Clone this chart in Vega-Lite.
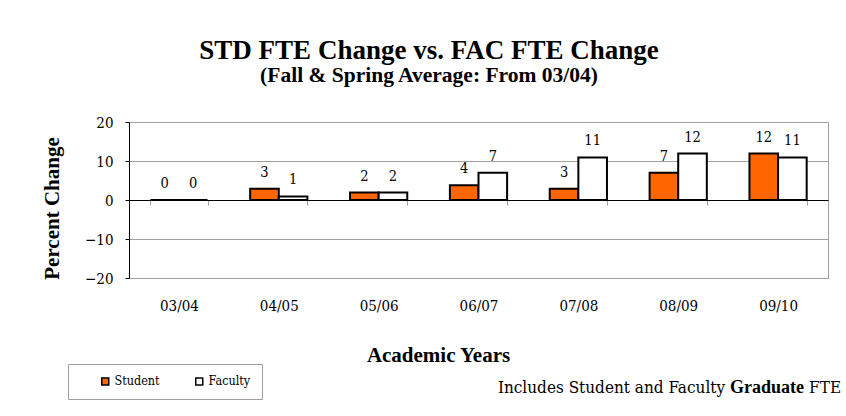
{
  "$schema": "https://vega.github.io/schema/vega-lite/v6.json",
  "width": 699,
  "height": 156,
  "autosize": {"type": "none"},
  "padding": {"left": 129, "top": 122, "right": 18, "bottom": 138},
  "background": "white",
  "config": {
    "font": "'DejaVu Serif Condensed', 'DejaVu Serif', serif",
    "view": {"stroke": "#a0a0a0", "strokeWidth": 1}
  },
  "title": {
    "text": "STD FTE Change vs. FAC FTE Change",
    "subtitle": "(Fall & Spring Average: From 03/04)",
    "font": "Liberation Serif",
    "fontSize": 27,
    "fontWeight": "bold",
    "color": "black",
    "subtitleFont": "Liberation Serif",
    "subtitleFontSize": 21.5,
    "subtitleFontWeight": "bold",
    "subtitleColor": "black",
    "subtitlePadding": 0,
    "anchor": "middle",
    "frame": "group",
    "dx": -49.5,
    "offset": 28
  },
  "data": {
    "values": [
      {"year": "03/04", "series": "Student", "value": 0, "label": "0"},
      {"year": "03/04", "series": "Faculty", "value": 0, "label": "0"},
      {"year": "04/05", "series": "Student", "value": 2.9, "label": "3"},
      {"year": "04/05", "series": "Faculty", "value": 0.9, "label": "1"},
      {"year": "05/06", "series": "Student", "value": 1.9, "label": "2"},
      {"year": "05/06", "series": "Faculty", "value": 1.9, "label": "2"},
      {"year": "06/07", "series": "Student", "value": 3.8, "label": "4"},
      {"year": "06/07", "series": "Faculty", "value": 7.0, "label": "7"},
      {"year": "07/08", "series": "Student", "value": 2.9, "label": "3"},
      {"year": "07/08", "series": "Faculty", "value": 10.9, "label": "11"},
      {"year": "08/09", "series": "Student", "value": 7.0, "label": "7"},
      {"year": "08/09", "series": "Faculty", "value": 11.9, "label": "12"},
      {"year": "09/10", "series": "Student", "value": 11.9, "label": "12"},
      {"year": "09/10", "series": "Faculty", "value": 10.9, "label": "11"}
    ]
  },
  "encoding": {
    "x": {
      "field": "year",
      "type": "nominal",
      "scale": {"paddingInner": 0.427, "paddingOuter": 0.2135},
      "axis": {
        "orient": "bottom",
        "offset": -78,
        "domainColor": "black",
        "domainWidth": 1,
        "tickBand": "extent",
        "tickColor": "#a0a0a0",
        "tickSize": 5,
        "labelAngle": 0,
        "labelFont": "'DejaVu Serif Condensed', 'DejaVu Serif', serif",
        "labelFontSize": 15,
        "labelColor": "black",
        "labelPadding": 93,
        "grid": false,
        "title": "Academic Years",
        "titleFont": "Liberation Serif",
        "titleFontSize": 21,
        "titleFontWeight": "bold",
        "titleColor": "black",
        "titleX": 309,
        "titleY": 155,
        "titleAlign": "center",
        "titleBaseline": "middle"
      }
    },
    "y": {
      "field": "value",
      "type": "quantitative",
      "scale": {"domain": [-20, 20], "nice": false, "zero": false},
      "axis": {
        "values": [-20, -10, 0, 10, 20],
        "domainColor": "black",
        "tickColor": "black",
        "tickSize": 4,
        "labelFont": "'DejaVu Serif Condensed', 'DejaVu Serif', serif",
        "labelFontSize": 15,
        "labelColor": "black",
        "labelPadding": 12,
        "gridColor": "#a0a0a0",
        "title": "Percent Change",
        "titleFont": "Liberation Serif",
        "titleFontSize": 21,
        "titleFontWeight": "bold",
        "titleColor": "black",
        "titleX": -77,
        "titleY": 86,
        "titleAlign": "center",
        "titleBaseline": "middle"
      }
    }
  },
  "layer": [
    {
      "mark": {"type": "bar", "stroke": "black", "strokeWidth": 2},
      "encoding": {
        "xOffset": {"field": "series", "sort": ["Student", "Faculty"], "scale": {"paddingInner": 0, "paddingOuter": 0}},
        "color": {
          "field": "series",
          "type": "nominal",
          "sort": ["Student", "Faculty"],
          "scale": {"domain": ["Student", "Faculty"], "range": ["#FF6600", "#FFFFFF"]},
          "legend": {
            "orient": "none",
            "legendX": -61,
            "legendY": 242,
            "direction": "horizontal",
            "title": "\u00a0",
            "titleOrient": "left",
            "titlePadding": 20,
            "titleFontSize": 14,
            "padding": 11,
            "strokeColor": "#a0a0a0",
            "fillColor": "white",
            "symbolType": "square",
            "symbolSize": 49,
            "symbolStrokeColor": "black",
            "symbolStrokeWidth": 1.5,
            "labelFont": "'DejaVu Serif Condensed', 'DejaVu Serif', serif",
            "labelFontSize": 12.5,
            "labelColor": "black",
            "labelOffset": 3,
            "labelExpr": "datum.label == 'Faculty' ? 'Faculty\u00a0\u00a0\u00a0\u00a0\u00a0' : datum.label",
            "columnPadding": 32
          }
        }
      }
    },
    {
      "mark": {"type": "text", "font": "'DejaVu Serif Condensed', 'DejaVu Serif', serif", "fontSize": 14.5, "color": "black", "baseline": "alphabetic", "dy": -12},
      "encoding": {
        "xOffset": {"field": "series", "sort": ["Student", "Faculty"]},
        "text": {"field": "label"}
      }
    },
    {
      "data": {"values": [{"year": "09/10", "value": -49.5, "note": "Includes Student and Faculty"}]},
      "mark": {"type": "text", "font": "'DejaVu Serif Condensed', 'DejaVu Serif', serif", "fontSize": 17, "color": "black", "align": "right", "baseline": "alphabetic", "dx": -53},
      "encoding": {"text": {"field": "note"}}
    },
    {
      "data": {"values": [{"year": "09/10", "value": -49.5, "note": "Graduate"}]},
      "mark": {"type": "text", "font": "Liberation Serif", "fontSize": 18, "fontWeight": "bold", "color": "black", "align": "center", "baseline": "alphabetic", "dx": -11},
      "encoding": {"text": {"field": "note"}}
    },
    {
      "data": {"values": [{"year": "09/10", "value": -49.5, "note": "FTE"}]},
      "mark": {"type": "text", "font": "'DejaVu Serif Condensed', 'DejaVu Serif', serif", "fontSize": 17, "color": "black", "align": "left", "baseline": "alphabetic", "dx": 31},
      "encoding": {"text": {"field": "note"}}
    }
  ]
}
